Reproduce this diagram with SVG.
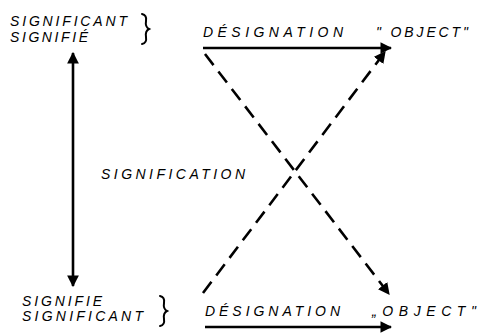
<svg xmlns="http://www.w3.org/2000/svg" width="483" height="334" viewBox="0 0 483 334">
<defs>
<style>
.t{font-family:"Liberation Sans",Arial,sans-serif;font-style:italic;font-size:14px;fill:#000;}
.solid{stroke:#000;stroke-width:2.6;fill:none;}
.dash{stroke:#000;stroke-width:2.6;fill:none;stroke-dasharray:14 8;}
.brace{stroke:#000;stroke-width:2;fill:none;stroke-linecap:round;}
</style>
<marker id="ah" viewBox="0 0 10 10" refX="9" refY="5" markerWidth="4.5" markerHeight="4.5" orient="auto-start-reverse" markerUnits="strokeWidth">
<path d="M0,0 L10,5 L0,10 Z" fill="#000"/>
</marker>
</defs>
<rect width="483" height="334" fill="#fff"/>
<g id="top-left">
<text class="t" x="10" y="26" textLength="117" lengthAdjust="spacing">SIGNIFICANT</text>
<text class="t" x="10" y="42" textLength="78" lengthAdjust="spacing">SIGNIFIÉ</text>
<path class="brace" d="M142,14 Q147,15 146,21 Q145,27 149,29 Q145,31 146,37 Q147,43 142,44"/>
</g>
<g id="bottom-left">
<text class="t" x="22" y="306" textLength="80" lengthAdjust="spacing">SIGNIFIE</text>
<text class="t" x="22" y="321" textLength="121" lengthAdjust="spacing">SIGNIFICANT</text>
<path class="brace" d="M160,296 Q165,297 164,303 Q163,309 167,311 Q163,313 164,319 Q165,325 160,326"/>
</g>
<g id="top-right">
<text class="t" x="203" y="37" textLength="140" lengthAdjust="spacing">DÉSIGNATION</text>
<text class="t" x="376" y="37" textLength="92" lengthAdjust="spacing">" OBJECT"</text>
</g>
<g id="bottom-right">
<text class="t" x="205" y="316" textLength="135" lengthAdjust="spacing">DÉSIGNATION</text>
<text class="t" x="372" y="316" textLength="104" lengthAdjust="spacing">„OBJECT"</text>
</g>
<g id="signification">
<text class="t" x="101" y="179" textLength="144" lengthAdjust="spacing">SIGNIFICATION</text>
</g>
<g id="connectors">
<line class="solid" x1="73" y1="53" x2="73" y2="286" marker-start="url(#ah)" marker-end="url(#ah)"/>
<line class="solid" x1="203" y1="48" x2="391" y2="48" marker-end="url(#ah)"/>
<line class="solid" x1="205" y1="327" x2="391" y2="327" marker-end="url(#ah)"/>
<line class="dash" x1="205" y1="54" x2="389" y2="294" marker-end="url(#ah)"/>
<line class="dash" x1="203" y1="293" x2="385" y2="52" marker-end="url(#ah)"/>
</g>
</svg>
